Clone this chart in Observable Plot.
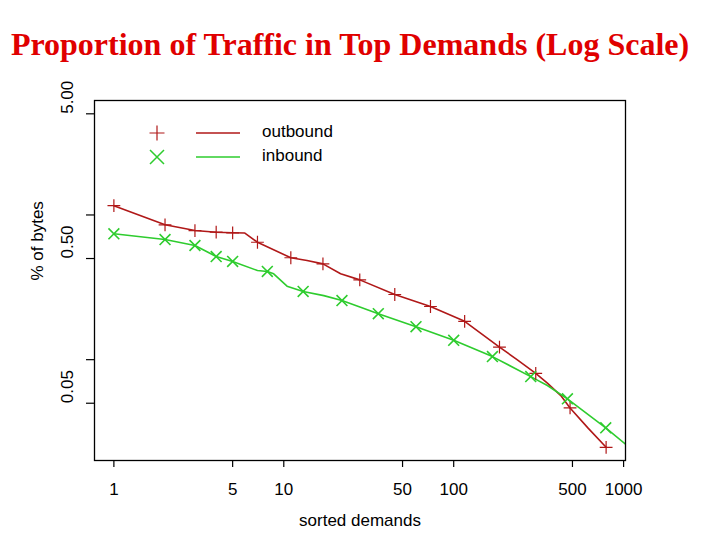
<!DOCTYPE html>
<html><head><meta charset="utf-8">
<script src="https://cdn.jsdelivr.net/npm/d3@7"></script>
<script src="https://cdn.jsdelivr.net/npm/@observablehq/plot@0.6"></script>
<style>
body{margin:0;background:#fff;}
#wrap{position:relative;width:720px;height:540px;overflow:hidden;background:#fff;}
#title{position:absolute;left:0;top:24px;width:700px;text-align:center;font:bold 32px "Liberation Serif","Times New Roman",serif;color:#e00000;white-space:nowrap;line-height:40px;}
#chart{position:absolute;left:0;top:70px;}
#legend{position:absolute;left:0;top:0;pointer-events:none;}
</style></head><body>
<div id="wrap">
<div id="title">Proportion of Traffic in Top Demands (Log Scale)</div>
<div id="chart"></div>
<svg id="legend" width="720" height="540" font-family="'Liberation Sans',Arial,sans-serif" font-size="17">
<path d="M149.5,133H164.5M157,125.5V140.5" stroke="#b01818" stroke-width="1.2" fill="none"/>
<path d="M150,150L164,164M164,150L150,164" stroke="#2ecc2e" stroke-width="1.5" fill="none"/>
<path d="M196,133H240" stroke="#b01818" stroke-width="1.6"/>
<path d="M196,157H240" stroke="#2ecc2e" stroke-width="1.6"/>
<text x="262" y="133" dominant-baseline="middle">outbound</text>
<text x="262" y="157" dominant-baseline="middle">inbound</text>
</svg>
</div>
<script>
const outboundX = [1, 2, 3, 4, 5, 5.9, 7, 11, 13.7, 17, 21.6, 28, 45, 73, 116, 186, 237, 304, 356, 427, 484, 620, 789];
const outboundY = [1.16, 0.855, 0.78, 0.76, 0.753, 0.75, 0.648, 0.506, 0.484, 0.459, 0.392, 0.356, 0.282, 0.233, 0.184, 0.122, 0.0998, 0.0805, 0.0688, 0.0565, 0.0464, 0.0335, 0.0248];
const outboundMarkX = [1, 2, 3, 4, 5, 7, 11, 17, 28, 45, 73, 116, 186, 304, 484, 789];

const inboundX = [1, 2, 3, 4, 5, 7, 8, 8.72, 10.45, 13, 17.2, 22, 28.3, 36, 60, 100, 169, 284, 356, 467, 785, 1030];
const inboundY = [0.741, 0.676, 0.615, 0.516, 0.477, 0.413, 0.407, 0.392, 0.322, 0.296, 0.277, 0.256, 0.230, 0.208, 0.169, 0.136, 0.105, 0.0764, 0.0663, 0.0536, 0.0338, 0.026];
const inboundMarkX = [1, 2, 3, 4, 5, 8, 13, 22, 36, 60, 100, 169, 284, 467, 785];

const xTicks = [1, 5, 10, 50, 100, 500, 1000];
const yTicks = [0.05, 0.1, 0.5, 1, 5];
const yTickLabels = [0.05, 0.5, 5];

const RED = "#b01818", GREEN = "#2ecc2e";
const FONT = "'Liberation Sans',Arial,sans-serif";

const outbound = outboundX.map((x, i) => ({x, y: outboundY[i]}));
const inbound = inboundX.map((x, i) => ({x, y: inboundY[i]}));
const outMarks = outbound.filter(d => outboundMarkX.includes(d.x));
const inMarks = inbound.filter(d => inboundMarkX.includes(d.x));

const chart = Plot.plot({
  width: 720, height: 470,
  marginLeft: 94, marginRight: 95, marginTop: 30, marginBottom: 80,
  x: {type: "log", domain: [0.769, 1026]},
  y: {type: "log", domain: [0.0201, 6.18]},
  style: {fontFamily: FONT, fontSize: "17px", color: "black", background: "white"},
  marks: [
    Plot.axisX(xTicks, {fill: "none", tickSize: 7, strokeWidth: 1.2, label: null}),
    Plot.axisY(yTicks, {fill: "none", tickSize: 8, strokeWidth: 1.2, label: null}),
    Plot.text(xTicks, {x: d => d, text: d => String(d), frameAnchor: "bottom", dy: 29, lineAnchor: "middle", fontSize: 17}),
    Plot.text(yTickLabels, {y: d => d, text: d => d.toFixed(2), frameAnchor: "left", dx: -27, rotate: -90, lineAnchor: "middle", fontSize: 17}),
    Plot.text(["% of bytes"], {text: d => d, frameAnchor: "left", dx: -57, rotate: -90, lineAnchor: "middle", fontSize: 17}),
    Plot.text(["sorted demands"], {text: d => d, frameAnchor: "bottom", dy: 60, lineAnchor: "middle", fontSize: 17}),
    Plot.line(outbound, {x: "x", y: "y", stroke: RED, strokeWidth: 1.6, clip: true}),
    Plot.line(inbound, {x: "x", y: "y", stroke: GREEN, strokeWidth: 1.6, clip: true}),
    Plot.dot(outMarks, {x: "x", y: "y", symbol: "plus", r: 4.2, stroke: RED, strokeWidth: 1.2}),
    Plot.dot(inMarks, {x: "x", y: "y", symbol: "times", r: 5, stroke: GREEN, strokeWidth: 1.6}),
    Plot.frame({stroke: "black", strokeWidth: 1.3})
  ]
});
document.getElementById("chart").appendChild(chart);
</script>
</body></html>
